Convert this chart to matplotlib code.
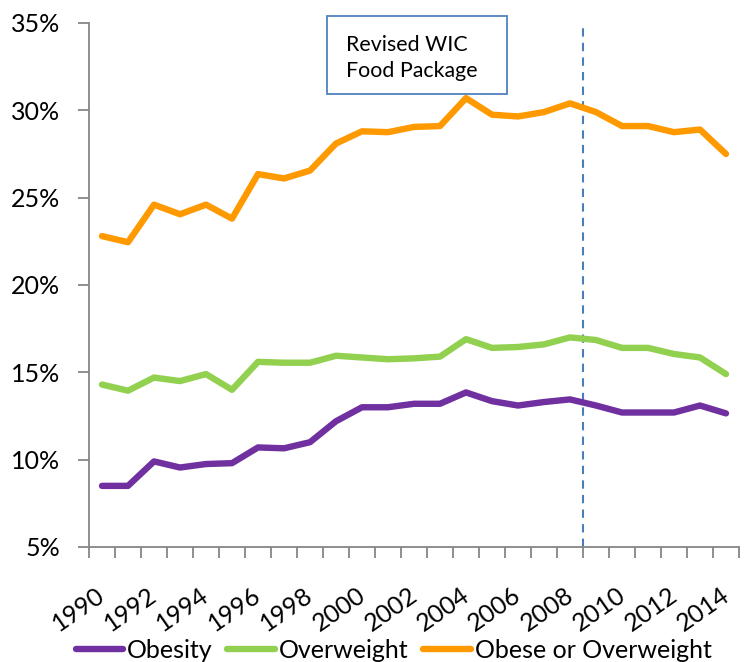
import matplotlib
matplotlib.use("Agg")
import matplotlib.pyplot as plt
import matplotlib.transforms as mtransforms
from matplotlib.ticker import FuncFormatter, FixedLocator
from matplotlib.patches import Rectangle

years = list(range(1990, 2015))
obesity = [8.5, 8.5, 9.9, 9.55, 9.75, 9.8, 10.7, 10.65, 11.0, 12.2, 13.0, 13.0, 13.2, 13.2, 13.85,
           13.35, 13.1, 13.3, 13.45, 13.1, 12.7, 12.7, 12.7, 13.1, 12.65]
overweight = [14.3, 13.95, 14.7, 14.5, 14.9, 14.0, 15.6, 15.55, 15.55, 15.95, 15.85, 15.75, 15.8, 15.9, 16.9,
              16.4, 16.45, 16.6, 17.0, 16.85, 16.4, 16.4, 16.05, 15.85, 14.9]
obese_or_overweight = [22.8, 22.45, 24.6, 24.05, 24.6, 23.8, 26.35, 26.1, 26.55, 28.1, 28.8, 28.75, 29.05, 29.1, 30.7,
                       29.75, 29.65, 29.9, 30.4, 29.9, 29.1, 29.1, 28.75, 28.9, 27.5]
series_names = ["Obesity", "Overweight", "Obese or Overweight"]
colors = ["#7030A0", "#92D050", "#FF9900"]
annotation_text = "Revised WIC\nFood Package"
policy_year = 2008.5

plt.rcParams['font.family'] = ['Lato', 'DejaVu Sans']

fig = plt.figure(figsize=(7.48, 6.62), dpi=100)
ax = fig.add_axes([89/748, 1 - 547/662, 650/748, (547-23)/662])

x = list(range(len(years)))
for vals, name, c in zip([obesity, overweight, obese_or_overweight], series_names, colors):
    ax.plot(x, vals, color=c, lw=4.6, label=name, solid_capstyle='round', solid_joinstyle='round')

ax.set_xlim(-0.5, len(years) - 0.5)
ax.set_ylim(5, 35)
ax.set_yticks([5, 10, 15, 20, 25, 30, 35])
ax.yaxis.set_major_formatter(FuncFormatter(lambda v, p: f"{int(v)}%"))

ax.xaxis.set_major_locator(FixedLocator(x[::2]))
ax.set_xticklabels([str(y) for y in years[::2]])
ax.xaxis.set_minor_locator(FixedLocator([i - 0.5 for i in range(len(years) + 1)]))
ax.tick_params(axis='x', which='major', length=0, pad=26, labelsize=18)
ax.tick_params(axis='x', which='minor', length=8, width=1.3, color='#868686', direction='out')
ax.tick_params(axis='y', which='major', length=8, width=1.3, color='#868686', direction='out',
               labelsize=18, pad=13)
offset = mtransforms.ScaledTranslation(-6/100, 0, fig.dpi_scale_trans)
for lbl in ax.get_xticklabels():
    lbl.set_rotation(35)
    lbl.set_ha('right')
    lbl.set_va('top')
    lbl.set_rotation_mode('anchor')
    lbl.set_transform(lbl.get_transform() + offset)

for s in ['top', 'right']:
    ax.spines[s].set_visible(False)
for s in ['left', 'bottom']:
    ax.spines[s].set_color('#868686')
    ax.spines[s].set_linewidth(1.3)

ax.axvline(years.index(2008) + (policy_year - 2008), color='#4A7EBB', lw=1.5, ls=(0, (4, 3)), zorder=1)

ax.text(346/748, 1 - 58/662, annotation_text, transform=fig.transFigure, fontsize=15.4,
        ha='left', va='center', linespacing=1.35)
fig.patches.append(Rectangle((327/748, 1 - 94/662), 180/748, 78/662, transform=fig.transFigure,
                             fill=False, edgecolor='#4F81BD', lw=1.3))

leg = fig.legend(loc='center', bbox_to_anchor=(0.526, 1 - 650/662), ncol=3, frameon=False,
                 fontsize=18, handlelength=1.9, handletextpad=0.15, columnspacing=0.6)

fig.savefig("out.png", dpi=100)
